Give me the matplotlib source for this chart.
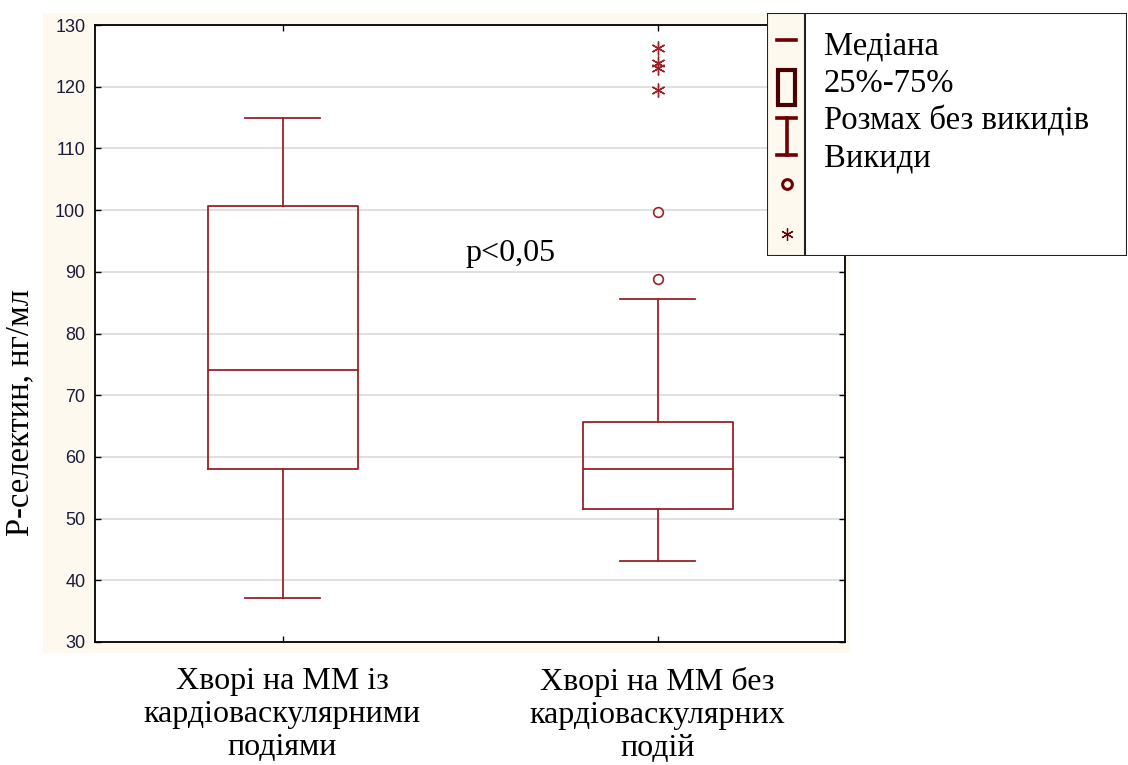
import matplotlib
matplotlib.use("Agg")
import matplotlib.pyplot as plt
from matplotlib.patches import Rectangle
from matplotlib.lines import Line2D

# Group labels
categories = ["Хворі на ММ із\nкардіоваскулярними\nподіями",
              "Хворі на ММ без\nкардіоваскулярних\nподій"]

# Box statistics (P-selectin, ng/ml)
whisker_low = [37.1, 43.1]
q1 = [58.0, 51.6]
median = [74.1, 58.0]
q3 = [100.7, 65.6]
whisker_high = [115.0, 85.6]

# Outliers and extremes for the second group
outliers_2 = [99.7, 88.8]
extremes_2 = [126.3, 123.8, 123.0, 119.5]

y_ticks = [30, 40, 50, 60, 70, 80, 90, 100, 110, 120, 130]

W, H = 1128, 765
fig = plt.figure(figsize=(W / 100, H / 100), dpi=100)
fig.patch.set_facecolor("white")

serif = ["Liberation Serif", "DejaVu Serif"]
box_color = "#9B2226"
legend_color = "#6E0000"

# cream panel behind the plot area
fig.patches.append(Rectangle((43 / W, 1 - 653 / H), (850 - 43) / W, (653 - 13) / H,
                             transform=fig.transFigure, facecolor="#FDF9EE",
                             edgecolor="none", zorder=0))

ax = fig.add_axes([95 / W, 1 - 642 / H, 750 / W, 617 / H])
ax.set_facecolor("white")
ax.set_zorder(1)

positions = [1, 2]
stats = []
for i in range(2):
    stats.append(dict(med=median[i], q1=q1[i], q3=q3[i],
                      whislo=whisker_low[i], whishi=whisker_high[i], fliers=[]))

line_kw = dict(color=box_color, linewidth=1.3)
ax.bxp(stats, positions=positions, widths=0.4, showfliers=False,
       boxprops=line_kw, medianprops=line_kw, whiskerprops=line_kw,
       capprops=line_kw, capwidths=0.2)

ax.plot([positions[1]] * len(outliers_2), outliers_2, linestyle="none",
        marker="o", markersize=7, markerfacecolor="white",
        markeredgecolor=box_color, markeredgewidth=1.2)
ax.plot([positions[1]] * len(extremes_2), extremes_2, linestyle="none",
        marker=(6, 2, 0), markersize=10, color=box_color, markeredgewidth=1.0)

ax.set_xlim(0.5, 2.5)
ax.set_ylim(30, 130)
ax.set_yticks(y_ticks)
ax.set_yticklabels([str(t) for t in y_ticks], fontsize=13,
                   family=["Liberation Sans", "DejaVu Sans"], color="#1B1B3A")
ax.set_xticks(positions)
ax.set_xticklabels(categories, fontsize=23, family=serif, linespacing=1.18)
ax.tick_params(axis="both", direction="in", length=4, width=1, top=True, right=True)
ax.tick_params(axis="x", pad=18)
ax.tick_params(axis="y", pad=7)
ax.grid(axis="y", color="#DADADA", linewidth=1.2)
ax.set_axisbelow(True)
for sp in ax.spines.values():
    sp.set_linewidth(1.3)
    sp.set_color("black")

ax.text(1.607, 93.0, "p<0,05", fontsize=23, family=serif, ha="center", va="center")

fig.text(20 / W, 1 - 412 / H, "Р-селектин, нг/мл", rotation=90, fontsize=23.5,
         family=serif, ha="center", va="center")

# Legend panel
lax = fig.add_axes([767 / W, 1 - 256 / H, (1127 - 767) / W, (256 - 13) / H])
lax.set_zorder(3)
lax.set_xlim(767, 1127)
lax.set_ylim(256, 13)
lax.axis("off")
lax.add_patch(Rectangle((767, 13), 360, 243, facecolor="white",
                        edgecolor="#222222", linewidth=1.5))
lax.add_patch(Rectangle((767, 13), 38, 243, facecolor="#FDF9EE",
                        edgecolor="#222222", linewidth=1.5))
lw = 2.6
lax.add_line(Line2D([777, 796], [40, 40], color=legend_color, linewidth=lw))
lax.add_patch(Rectangle((778, 70), 17, 35, facecolor="none",
                        edgecolor="#4A0000", linewidth=3))
lax.add_line(Line2D([777, 796], [118, 118], color=legend_color, linewidth=lw))
lax.add_line(Line2D([777, 796], [155, 155], color=legend_color, linewidth=lw))
lax.add_line(Line2D([786.5, 786.5], [118, 155], color=legend_color, linewidth=lw))
lax.plot([786.5], [184], marker="o", markersize=7, markerfacecolor="none",
         markeredgecolor=legend_color, markeredgewidth=2.2)
lax.plot([786.5], [234], marker=(6, 2, 0), markersize=9, color=legend_color,
         markeredgewidth=0.9)

legend_labels = ["Медіана", "25%-75%", "Розмах без викидів", "Викиди"]
for j, txt in enumerate(legend_labels):
    lax.text(824, 46 + j * 37.5, txt, fontsize=23.5, family=serif,
             ha="left", va="center")

fig.savefig("out.png", dpi=100)
